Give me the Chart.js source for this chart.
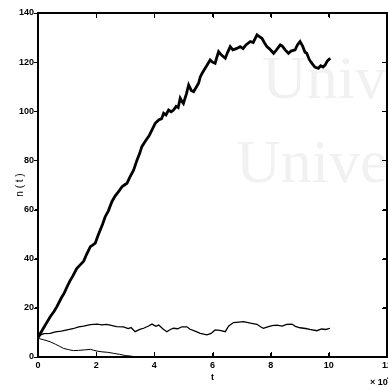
<!DOCTYPE html>
<html>
<head>
<meta charset="utf-8">
<script src="https://cdn.jsdelivr.net/npm/chart.js@4/dist/chart.umd.min.js"></script>
<style>
  html, body { margin: 0; padding: 0; background: #fff; overflow: hidden; }
  #wrap { width: 410px; height: 390px; position: relative; }
  #c { position: absolute; left: 0; top: 0; z-index: 1; }
  .wm { position: absolute; z-index: 0; color: #f1f1f1; font: 62px "Liberation Serif", serif; line-height: 1; white-space: nowrap; }
  .edge { position: absolute; z-index: 2; background: #000; }
</style>
</head>
<body>
<div id="wrap">
  <div class="wm" style="left:262px; top:46px;">Univ</div>
  <div class="wm" style="left:236px; top:130px;">Univer</div>
  <canvas id="c" width="410" height="390"></canvas>
</div>
<script>
// upper population curve
var tTop = [0, 0.1, 0.2, 0.3, 0.42, 0.55, 0.65, 0.8, 0.9, 1.0, 1.1, 1.2, 1.33, 1.45, 1.57, 1.68, 1.8, 1.88, 1.97,
  2.05, 2.14, 2.22, 2.31, 2.42, 2.54, 2.65, 2.75, 2.89, 2.97, 3.06, 3.15, 3.29, 3.4, 3.5, 3.57, 3.7, 3.82, 3.92,
  4.03, 4.15, 4.25, 4.32, 4.4, 4.49, 4.58, 4.66, 4.75, 4.82, 4.89, 4.95, 5.0, 5.1, 5.18, 5.27, 5.35, 5.45, 5.52,
  5.58, 5.64, 5.72, 5.8, 5.92, 6.0, 6.09, 6.15, 6.21, 6.3, 6.44, 6.52, 6.61, 6.7, 6.84, 6.95, 7.05, 7.15, 7.3,
  7.4, 7.53, 7.6, 7.7, 7.78, 7.87, 7.95, 8.03, 8.1, 8.2, 8.33, 8.4, 8.5, 8.61, 8.7, 8.84, 8.92, 9.01, 9.1, 9.18,
  9.24, 9.33, 9.42, 9.52, 9.64, 9.72, 9.8, 9.87, 9.95, 10.05];
var nTop = [8, 10, 12, 14, 16.4, 18.5, 20.5, 24, 26, 28.6, 31, 33, 36, 37.5, 39, 42, 44.9, 45.5, 46.3,
  49, 51.7, 54, 57.1, 59.5, 63.2, 65.5, 67, 69.3, 70, 70.7, 73, 76.1, 80, 83, 85.6, 88, 90, 92.4,
  95.1, 96.5, 97, 99.2, 98.5, 100.5, 99.8, 100.5, 102, 101.5, 105.3, 104, 103.2, 107, 110.7, 108.5, 108, 110, 111.4,
  114, 115.4, 117, 118.5, 120.9, 120, 119.5, 122, 124.3, 123, 121.6, 124, 126.3, 125, 125.6, 126.3, 125.5, 127, 128.4,
  128, 131.1, 130.5, 129.7, 128, 126.3, 125.5, 124.5, 123.6, 125, 127, 126.5, 125, 123.6, 124.5, 125, 127, 128.4, 126.5, 124,
  123.6, 121, 119.5, 118, 117.5, 118.5, 118, 118.8, 120.5, 121.6];

// middle curve
var tMid = [0, 0.1, 0.2, 0.42, 0.6, 0.8, 1.0, 1.2, 1.4, 1.57, 1.8, 2.03, 2.2, 2.35, 2.48, 2.7, 2.94, 3.1, 3.2,
  3.34, 3.5, 3.63, 3.8, 3.92, 4.05, 4.15, 4.3, 4.43, 4.55, 4.66, 4.8, 4.95, 5.12, 5.23, 5.4, 5.58, 5.81, 5.95,
  6.09, 6.25, 6.44, 6.55, 6.72, 6.9, 7.07, 7.3, 7.53, 7.65, 7.75, 7.9, 8.05, 8.21, 8.4, 8.55, 8.73, 8.85, 9.01,
  9.2, 9.35, 9.59, 9.75, 9.9, 10.04];
var nMid = [7.6, 9, 9.5, 9.6, 10.2, 10.5, 11, 11.5, 12.3, 12.6, 13.2, 13.4, 13.1, 13.3, 13, 12.4, 12.3, 11.6, 12,
  10.3, 11.2, 11.7, 12.6, 13.4, 12.5, 13, 11.4, 10.3, 11.2, 11.7, 11.5, 12.3, 12.3, 11.3, 10.5, 9.6, 9, 9.6,
  11, 10.8, 10.3, 12.5, 14, 14.2, 14.4, 13.8, 13.3, 12.3, 11.7, 12.3, 12.8, 13, 12.6, 13.3, 13.4, 12.5, 11.9,
  11.6, 11.2, 10.7, 11.4, 11.2, 11.7];

// lower (dying out) curve
var tLow = [0, 0.2, 0.42, 0.6, 0.75, 0.88, 1.05, 1.22, 1.4, 1.6, 1.8, 1.9, 2.03, 2.2, 2.4, 2.6, 2.8, 3.0, 3.17, 3.4, 3.7];
var nLow = [7.6, 7, 6.2, 5.2, 4.3, 3.5, 3, 2.6, 2.7, 2.9, 3.1, 2.8, 2.4, 2.1, 1.9, 1.5, 1.1, 0.6, 0.4, 0, 0];

var xTicks = [0, 2, 4, 6, 8, 10, 12];
var yTicks = [0, 20, 40, 60, 80, 100, 120, 140];

var FONT = '"Liberation Sans", Arial, sans-serif';

function pts(ts, ns) {
  return ts.map(function (t, i) { return { x: t, y: ns[i] }; });
}

function fixedTicks(list) {
  return function (s) { s.ticks = list.map(function (v) { return { value: v }; }); };
}

// exponent note under the x axis
var exponent = {
  id: 'exponent',
  afterDraw: function (chart) {
    var ctx = chart.ctx;
    ctx.save();
    ctx.fillStyle = '#000';
    ctx.font = 'bold 9px ' + FONT;
    ctx.textBaseline = 'middle';
    ctx.fillText('\u00d7 10', 370, 383);
    ctx.font = 'bold 7px ' + FONT;
    ctx.fillText('4', 387, 378);
    ctx.restore();
  }
};

var edge = { display: true, color: '#000', width: 1.5 };

var chart = new Chart(document.getElementById('c'), {
  type: 'line',
  data: {
    datasets: [
      { data: pts(tTop, nTop), borderColor: '#000', borderWidth: 2.8, pointRadius: 0 },
      { data: pts(tMid, nMid), borderColor: '#000', borderWidth: 1.3, pointRadius: 0 },
      { data: pts(tLow, nLow), borderColor: '#000', borderWidth: 1, pointRadius: 0 }
    ]
  },
  options: {
    responsive: false,
    animation: false,
    devicePixelRatio: 1,
    layout: { padding: { left: 0, top: 13, right: 23, bottom: 0 } },
    plugins: { legend: { display: false }, tooltip: { enabled: false } },
    scales: {
      x: {
        type: 'linear', min: 0, max: 12,
        afterFit: function (s) { s.height = 33; },
        afterBuildTicks: fixedTicks(xTicks),
        grid: { display: true, drawOnChartArea: false, drawTicks: true, tickLength: -4, color: '#000' },
        border: edge,
        ticks: { color: '#000', padding: 7, maxRotation: 0, font: { family: FONT, size: 9, weight: 'bold' } },
        title: { display: true, text: 't', color: '#000', padding: { top: 0, bottom: 7 }, font: { family: FONT, size: 9, weight: 'bold' } }
      },
      x2: {
        type: 'linear', position: 'top', min: 0, max: 12,
        afterFit: function (s) { s.height = 0; },
        afterBuildTicks: fixedTicks(xTicks),
        grid: { display: true, drawOnChartArea: false, drawTicks: true, tickLength: -4, color: '#000' },
        border: edge,
        ticks: { display: false }
      },
      y: {
        type: 'linear', min: 0, max: 140,
        afterFit: function (s) { s.width = 38; },
        afterBuildTicks: fixedTicks(yTicks),
        grid: { display: true, drawOnChartArea: false, drawTicks: true, tickLength: 3, color: '#000' },
        border: edge,
        ticks: { color: '#000', padding: 1, font: { family: FONT, size: 9, weight: 'bold' } },
        title: { display: true, text: 'n ( t )', color: '#000', padding: { top: 14, bottom: 0 }, font: { family: FONT, size: 10 } }
      },
      y2: {
        type: 'linear', position: 'right', min: 0, max: 140,
        afterFit: function (s) { s.width = 0; },
        afterBuildTicks: fixedTicks(yTicks),
        grid: { display: true, drawOnChartArea: false, drawTicks: true, tickLength: -4, color: '#000' },
        border: edge,
        ticks: { display: false }
      }
    }
  },
  plugins: [exponent]
});

// axis box and inward ticks as overlay strips, placed from the chart's own scales
(function () {
  var wrap = document.getElementById('wrap');
  var a = chart.chartArea, xs = chart.scales.x, ys = chart.scales.y;
  function strip(l, t, w, h) {
    var d = document.createElement('div');
    d.className = 'edge';
    d.style.left = l + 'px'; d.style.top = t + 'px';
    d.style.width = w + 'px'; d.style.height = h + 'px';
    wrap.appendChild(d);
  }
  var L = Math.round(a.left), R = Math.round(a.right), T = Math.round(a.top), B = Math.round(a.bottom);
  strip(L - 1, T - 1, R - L + 2, 2);
  strip(L - 1, B - 1, R - L + 2, 2);
  strip(L - 1, T - 1, 2, B - T + 2);
  strip(R - 1, T - 1, 2, B - T + 2);
  xTicks.forEach(function (v) {
    var px = Math.round(xs.getPixelForValue(v));
    strip(px, B - 5, 1, 5);
    strip(px, T, 1, 5);
  });
  yTicks.forEach(function (v) {
    var py = Math.round(ys.getPixelForValue(v));
    strip(L - 4, py, 4, 1);
    strip(R - 5, py, 5, 1);
  });
})();
</script>
</body>
</html>
